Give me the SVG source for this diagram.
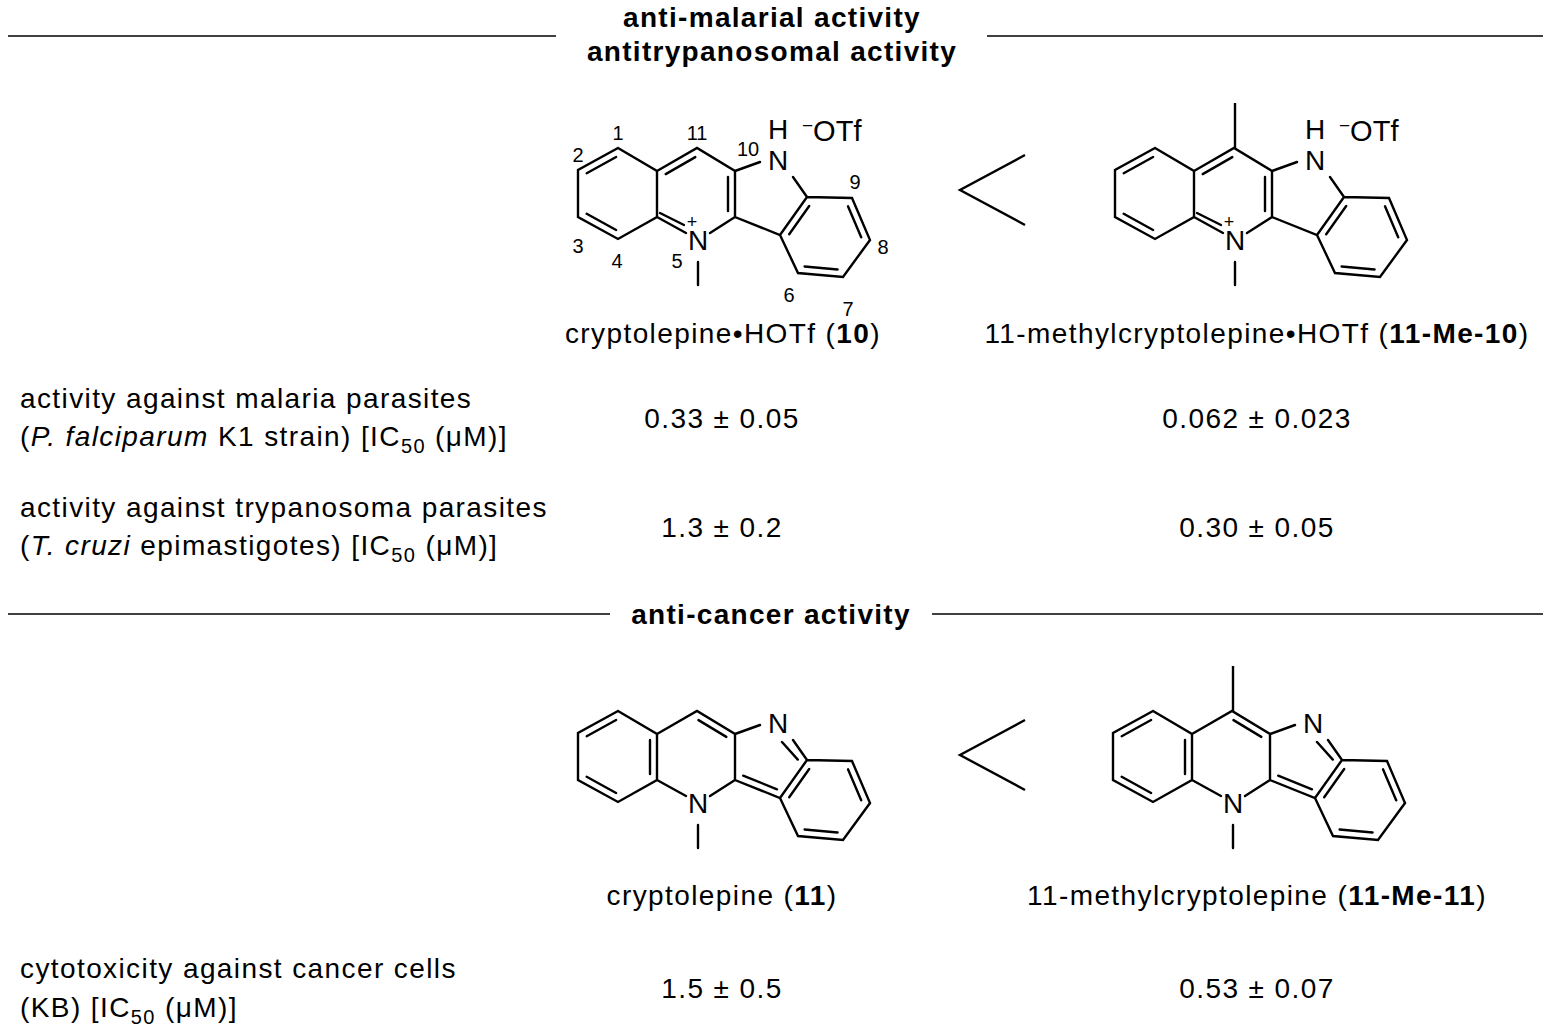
<svg xmlns="http://www.w3.org/2000/svg" width="1551" height="1032" viewBox="0 0 1551 1032">
<style>
text{font-family:"Liberation Sans",Arial,sans-serif;fill:#000}
.t{font-size:28px;letter-spacing:1.4px}
.h{font-size:28px;letter-spacing:1.3px;font-weight:bold;text-anchor:middle}
.c{text-anchor:middle}
.n{font-size:20px;text-anchor:middle}
.at{font-size:28px;text-anchor:middle}
.rule{stroke:#000;stroke-width:1.5}
</style>
<defs>
<g id="common" stroke="#000" stroke-width="2.4" fill="none" stroke-linecap="round">
<path d="M-80,-92L-120,-70L-120,-23L-80,-1L-41,-23L-41,-69L-80,-92 M-41,-69L-1,-92L37,-69L37,-23L82,-5L109,-43L154,-42L172,0L145,37L100,33L82,-5 M37,-69L62,-78 M95,-63L109,-43 M-41,-23L-12,-7 M37,-23L12,-7 M0,22L0,45"/>
<path d="M-81.9,-83L-111.3,-66.8 M-111.3,-26.2L-81.9,-10 M111.2,-34L91.2,-5.8 M150,-33.7L163.2,-2.7 M139.6,29.5L106.6,26.5"/>
</g>
<g id="m10">
<use href="#common"/>
<path stroke="#000" stroke-width="2.4" fill="none" stroke-linecap="round" d="M-32.3,-65.9L-2.7,-82.9 M30,-63L30,-29 M-38,-27L-14,-15"/>
<text class="at" x="0" y="10">N</text>
<text x="-6" y="-12" style="font-size:18px;text-anchor:middle">+</text>
<text class="at" x="80" y="-70">N</text>
<text class="at" x="80" y="-101">H</text>
<text x="104" y="-99" style="font-size:29px"><tspan dy="-9" style="font-size:19px">−</tspan><tspan dy="9">OTf</tspan></text>
</g>
<g id="m11">
<use href="#common"/>
<path stroke="#000" stroke-width="2.4" fill="none" stroke-linecap="round" d="M-48,-63L-48,-29 M0.5,-82.9L28.3,-66.1 M45.2,-27.3L79,-13.7 M84,-61L99.8,-43.4"/>
<text class="at" x="0" y="10">N</text>
<text class="at" x="80" y="-70">N</text>
</g>
</defs>
<g id="headers">
<line class="rule" x1="8" y1="36" x2="556" y2="36"/>
<line class="rule" x1="987" y1="36" x2="1543" y2="36"/>
<text class="h" x="772" y="27">anti-malarial activity</text>
<text class="h" x="772" y="61">antitrypanosomal activity</text>
<line class="rule" x1="8" y1="614" x2="610" y2="614"/>
<line class="rule" x1="932" y1="614" x2="1543" y2="614"/>
<text class="h" x="771" y="624">anti-cancer activity</text>
</g>
<g id="mol10" transform="translate(698,240)"><use href="#m10"/>
<text class="n" x="-80" y="-100">1</text><text class="n" x="-120" y="-78">2</text><text class="n" x="-120" y="13">3</text><text class="n" x="-81" y="28">4</text><text class="n" x="-21" y="28">5</text><text class="n" x="91" y="62">6</text><text class="n" x="150" y="76">7</text><text class="n" x="185" y="14">8</text><text class="n" x="157" y="-51">9</text><text class="n" x="50" y="-84">10</text><text class="n" x="-1" y="-100">11</text>
</g>
<g id="mol11Me10" transform="translate(1235,240)"><use href="#m10"/><path stroke="#000" stroke-width="2.4" d="M0,-92L0,-137"/></g>
<g id="mol11" transform="translate(698,803)"><use href="#m11"/></g>
<g id="mol11Me11" transform="translate(1233,803)"><use href="#m11"/><path stroke="#000" stroke-width="2.4" d="M0,-92L0,-137"/></g>
<g id="lt" stroke="#000" stroke-width="2.4" fill="none">
<path d="M1025,155L960,190L1025,225 M1025,720L960,755L1025,790"/>
</g>
<g id="captions" class="t">
<text class="c" x="723" y="343">cryptolepine•HOTf (<tspan font-weight="bold">10</tspan>)</text>
<text class="c" x="1257" y="343">11-methylcryptolepine•HOTf (<tspan font-weight="bold">11-Me-10</tspan>)</text>
<text class="c" x="722" y="905">cryptolepine (<tspan font-weight="bold">11</tspan>)</text>
<text class="c" x="1257" y="905">11-methylcryptolepine (<tspan font-weight="bold">11-Me-11</tspan>)</text>
</g>
<g id="rows" class="t">
<text x="20" y="408">activity against malaria parasites</text>
<text x="20" y="446">(<tspan font-style="italic">P. falciparum</tspan> K1 strain) [IC<tspan dy="7" font-size="20">50</tspan><tspan dy="-7"> (μM)]</tspan></text>
<text class="c" x="722" y="428">0.33 ± 0.05</text>
<text class="c" x="1257" y="428">0.062 ± 0.023</text>
<text x="20" y="517">activity against trypanosoma parasites</text>
<text x="20" y="555">(<tspan font-style="italic">T. cruzi</tspan> epimastigotes) [IC<tspan dy="7" font-size="20">50</tspan><tspan dy="-7"> (μM)]</tspan></text>
<text class="c" x="722" y="537">1.3 ± 0.2</text>
<text class="c" x="1257" y="537">0.30 ± 0.05</text>
<text x="20" y="978">cytotoxicity against cancer cells</text>
<text x="20" y="1017">(KB) [IC<tspan dy="7" font-size="20">50</tspan><tspan dy="-7"> (μM)]</tspan></text>
<text class="c" x="722" y="998">1.5 ± 0.5</text>
<text class="c" x="1257" y="998">0.53 ± 0.07</text>
</g>
</svg>
